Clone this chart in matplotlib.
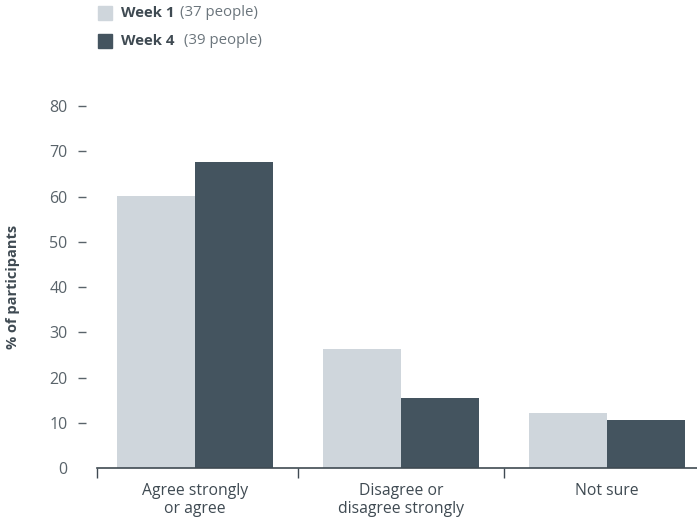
import numpy as np
import matplotlib.pyplot as plt
from matplotlib.patches import Rectangle

# Survey responses, % of participants
categories = ['Agree strongly\nor agree', 'Disagree or\ndisagree strongly', 'Not sure']
week1 = [60.2, 26.2, 12.2]
week4 = [67.7, 15.4, 10.6]
series_names = ['Week 1', 'Week 4']
series_notes = ['(37 people)', ' (39 people)']
y_ticks = [0, 10, 20, 30, 40, 50, 60, 70, 80]

light = '#cfd6dc'
dark = '#44545f'
text_color = '#3f4a52'
tick_gray = '#59636a'

plt.rcParams['font.family'] = ['Open Sans', 'DejaVu Sans']

fig = plt.figure(figsize=(6.97, 5.23), dpi=100)
ax = fig.add_axes([97 / 697, 1 - 468 / 523, 600 / 697, (468 - 106) / 523])

x = np.arange(len(categories))
w = 0.379
ax.bar(x - w / 2, week1, w, color=light, zorder=2)
ax.bar(x + w / 2, week4, w, color=dark, zorder=2)

ax.set_xlim(-0.476, 2.437)
ax.set_ylim(0, 80)

# y axis: no line, short dashes set off to the left
for side in ['top', 'right']:
    ax.spines[side].set_visible(False)
ax.spines['left'].set_position(('outward', 7.9))
ax.spines['left'].set_visible(False)
ax.set_yticks(y_ticks)
ax.tick_params(axis='y', length=5.8, width=1, color=tick_gray, pad=7.5,
               labelsize=11.5, labelcolor=tick_gray)
ax.yaxis.get_major_ticks()[0].tick1line.set_visible(False)

# x axis: baseline with group separators
ax.spines['bottom'].set_color(text_color)
ax.spines['bottom'].set_linewidth(1.2)
ax.set_xticks(x)
ax.set_xticklabels(categories, linespacing=1.15)
ax.tick_params(axis='x', length=0, pad=11, labelsize=11.3, labelcolor=text_color)
ax.set_xticks([ax.get_xlim()[0], 0.5, 1.5], minor=True)
ax.tick_params(axis='x', which='minor', length=7, width=1, color=text_color)

fig.text(13 / 697, 1 - 287 / 523, '% of participants', rotation=90,
         ha='center', va='center', fontsize=10.5, fontweight='bold', color=text_color)

# legend drawn by hand: bold series name plus count
for i, (name, note, col) in enumerate(zip(series_names, series_notes, [light, dark])):
    yc = 13 + 28 * i
    fig.add_artist(Rectangle((98 / 697, 1 - (yc + 7) / 523), 14 / 697, 14 / 523,
                             transform=fig.transFigure, color=col))
    t = fig.text(121 / 697, 1 - yc / 523, name, ha='left', va='center',
                 fontsize=10.8, fontweight='bold', color=text_color)
    fig.canvas.draw()
    bb = t.get_window_extent()
    fig.text((bb.x1 + 6) / 697, 1 - yc / 523, note, ha='left', va='center',
             fontsize=10.8, color='#6b757c')

fig.savefig('out.png', dpi=100)
